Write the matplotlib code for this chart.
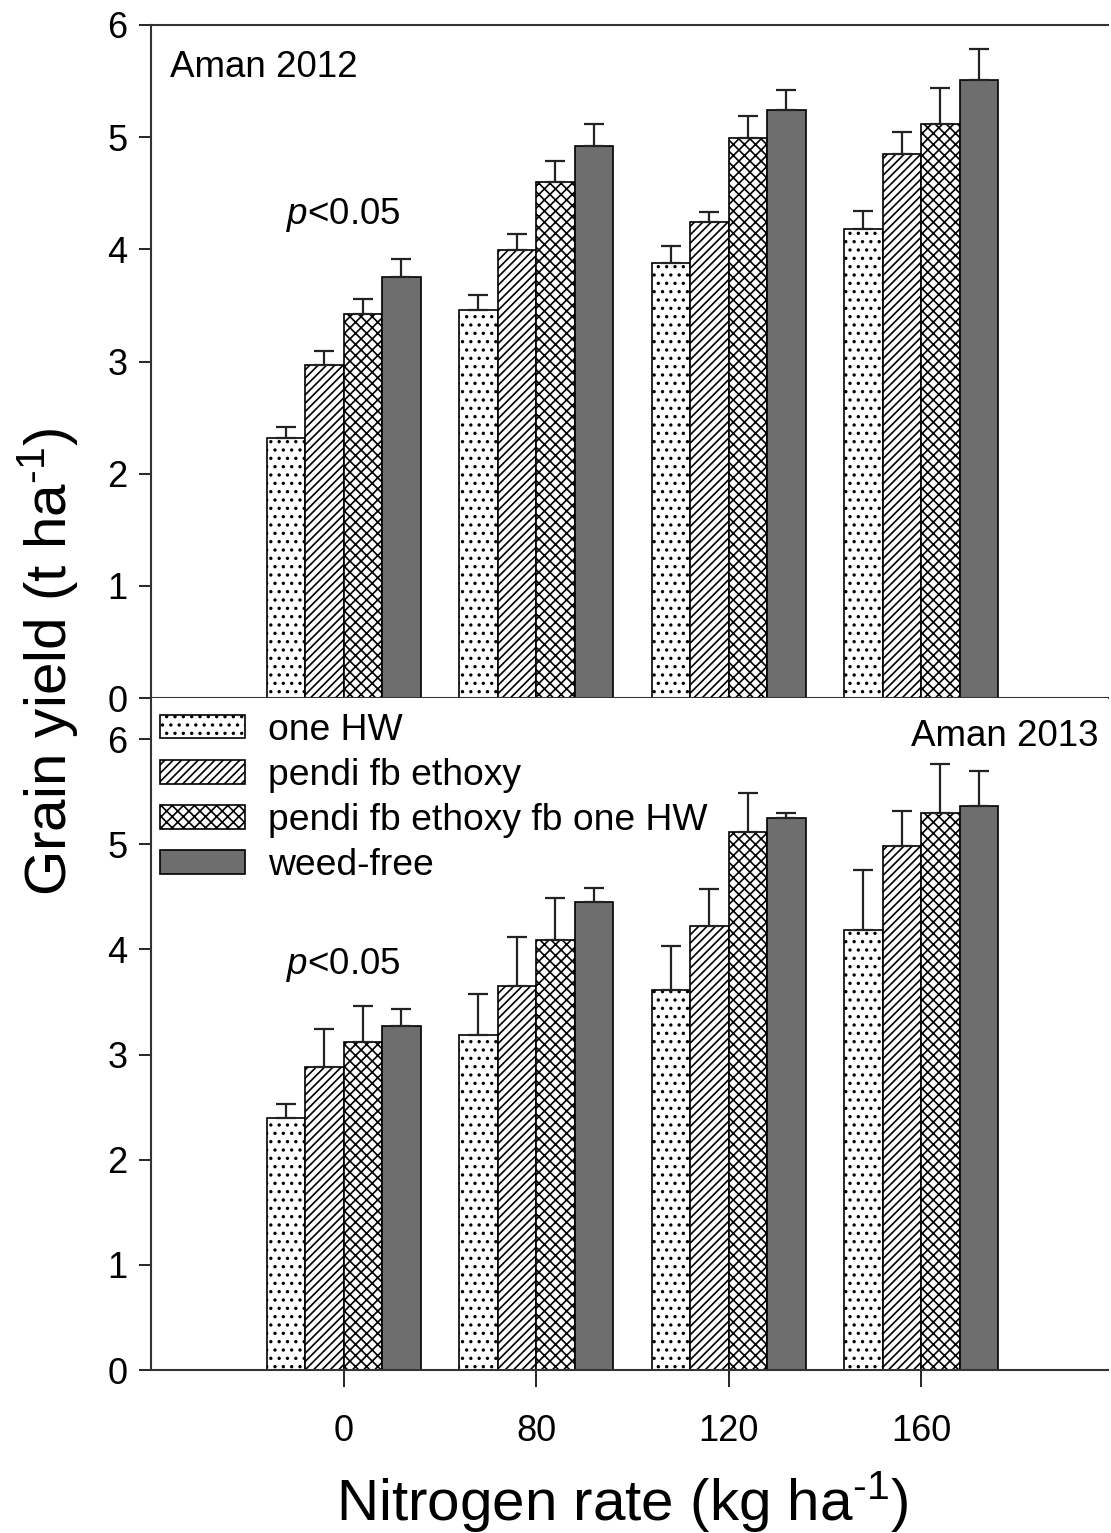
import numpy as np
import matplotlib
matplotlib.use("Agg")
import matplotlib.pyplot as plt

plt.rcParams['font.family'] = ['Liberation Sans', 'DejaVu Sans']
plt.rcParams['hatch.linewidth'] = 1.2
plt.rcParams['mathtext.fontset'] = 'custom'
plt.rcParams['mathtext.rm'] = 'Liberation Sans'
plt.rcParams['mathtext.it'] = 'Liberation Sans:italic'

# nitrogen rates (x categories)
n_rates = ['0', '80', '120', '160']
treatments = ['one HW', 'pendi fb ethoxy', 'pendi fb ethoxy fb one HW', 'weed-free']

# Aman 2012 grain yield (t/ha) and upper error
y2012_hw = [2.32, 3.46, 3.88, 4.18]
y2012_pe = [2.97, 3.99, 4.24, 4.85]
y2012_pehw = [3.42, 4.60, 4.99, 5.12]
y2012_wf = [3.75, 4.92, 5.24, 5.51]
e2012_hw = [0.10, 0.13, 0.15, 0.16]
e2012_pe = [0.12, 0.15, 0.09, 0.20]
e2012_pehw = [0.14, 0.19, 0.20, 0.32]
e2012_wf = [0.16, 0.20, 0.18, 0.28]

# Aman 2013
y2013_hw = [2.40, 3.19, 3.61, 4.18]
y2013_pe = [2.88, 3.65, 4.22, 4.98]
y2013_pehw = [3.12, 4.09, 5.12, 5.30]
y2013_wf = [3.27, 4.45, 5.25, 5.36]
e2013_hw = [0.13, 0.39, 0.42, 0.57]
e2013_pe = [0.36, 0.47, 0.35, 0.34]
e2013_pehw = [0.34, 0.40, 0.37, 0.46]
e2013_wf = [0.16, 0.13, 0.05, 0.34]

fills = ['white', 'white', 'white', '#6e6e6e']
hatches = ['..', '////', 'xxx', None]
offsets = [-0.3, -0.1, 0.1, 0.3]
width = 0.2

fig = plt.figure(figsize=(11.11, 15.33), dpi=100)
L, R = 151 / 1111, 1108 / 1111
ax1 = fig.add_axes([L, 1 - 698 / 1533, R - L, (698 - 25) / 1533])
ax2 = fig.add_axes([L, 1 - 1370 / 1533, R - L, (1370 - 698) / 1533])


def draw(ax, ys, es):
    x = np.arange(len(n_rates))
    for i in range(4):
        ax.bar(x + offsets[i], ys[i], width, color=fills[i], edgecolor='black',
               hatch=hatches[i], linewidth=1.2, label=treatments[i], zorder=2)
        ax.errorbar(x + offsets[i], ys[i], yerr=[np.zeros(4), es[i]], fmt='none',
                    ecolor='#222222', elinewidth=1.6, capsize=7.5, capthick=1.6, zorder=3)
    ax.set_xlim(-1.0, 3.97)
    ax.set_xticks(x)
    ax.spines['right'].set_visible(False)
    ax.tick_params(axis='both', direction='out', labelsize=26, width=1.2)
    ax.tick_params(axis='y', length=9, pad=8)
    ax.tick_params(axis='x', length=12, pad=20)
    for s in ax.spines.values():
        s.set_linewidth(1.5)
        s.set_color('#333333')


draw(ax1, [y2012_hw, y2012_pe, y2012_pehw, y2012_wf], [e2012_hw, e2012_pe, e2012_pehw, e2012_wf])
draw(ax2, [y2013_hw, y2013_pe, y2013_pehw, y2013_wf], [e2013_hw, e2013_pe, e2013_pehw, e2013_wf])

ax1.set_ylim(0, 6)
ax1.set_yticks(range(7))
ax1.set_xticklabels([])
ax2.set_ylim(0, 6.39)
ax2.set_yticks(range(7))
ax2.set_xticklabels(n_rates)
ax2.spines['top'].set_visible(False)

ax1.text(-0.9, 5.62, 'Aman 2012', fontsize=26.5, ha='left', va='center')
ax1.text(0.0, 4.31, r'$p$<0.05', fontsize=26.5, ha='center', va='center')
ax2.text(3.92, 6.02, 'Aman 2013', fontsize=26.5, ha='right', va='center')
ax2.text(0.0, 3.85, r'$p$<0.05', fontsize=26.5, ha='center', va='center')

ax2.legend(loc='upper left', bbox_to_anchor=(0.009, 0.978), frameon=False,
           fontsize=26.8, handlelength=2.3, handleheight=0.6, handletextpad=0.62,
           labelspacing=0.27, borderpad=0, borderaxespad=0)

fig.text(48 / 1111, 1 - 662 / 1533, r'Grain yield (t ha$^{\text{-}1}$)', fontsize=42,
         rotation=90, ha='center', va='center')
fig.text(622 / 1111, 1 - 1502 / 1533, r'Nitrogen rate (kg ha$^{\text{-}1}$)', fontsize=42,
         ha='center', va='center')

fig.savefig('out.png', dpi=100)
